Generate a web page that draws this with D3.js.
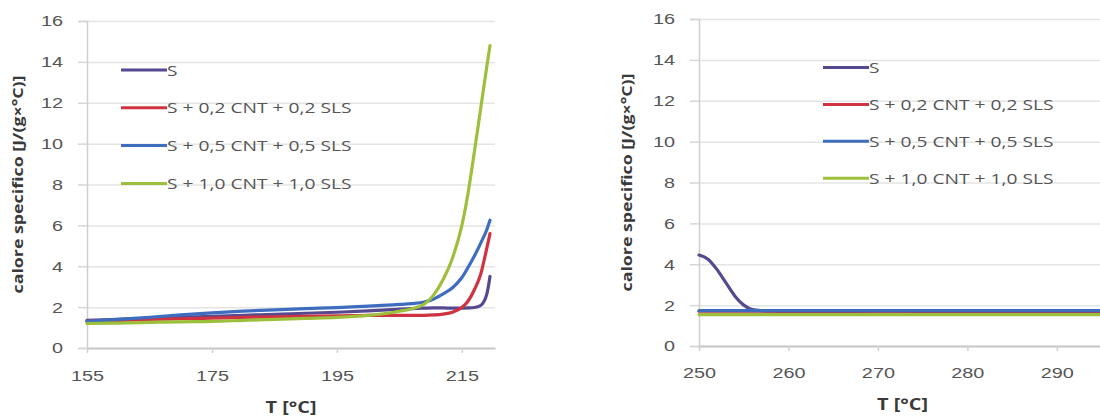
<!DOCTYPE html>
<html>
<head>
<meta charset="utf-8">
<script src="https://cdn.jsdelivr.net/npm/d3@7"></script>
<style>
  body { margin: 0; background: #fff; }
  svg { display: block; font-family: 'Open Sans', sans-serif; }
</style>
</head>
<body>
<svg id="chart" width="1100" height="418"></svg>
<script>
// Series names and colours (same order in both panels)
const seriesNames = ["S", "S + 0,2 CNT + 0,2 SLS", "S + 0,5 CNT + 0,5 SLS", "S + 1,0 CNT + 1,0 SLS"];
const seriesColors = ["#56498f", "#d0333f", "#3e6dc0", "#9dc03c"];

// Tick labels
const yTicks = [0, 2, 4, 6, 8, 10, 12, 14, 16];
const lowTicks = [155, 175, 195, 215];
const highTicks = [250, 260, 270, 280, 290];

// Low-temperature range (°C) and specific heat [J/(g×°C)]
const tempLow = [155, 160, 165, 170, 175, 180, 185, 190, 195, 200, 203, 205, 207, 209, 210.5, 212, 213.5, 215, 216, 217, 218, 219, 219.5];
const cpLowS    = [1.35, 1.40, 1.45, 1.50, 1.55, 1.60, 1.65, 1.70, 1.75, 1.82, 1.87, 1.90, 1.93, 1.95, 1.96, 1.96, 1.95, 1.95, 1.96, 1.98, 2.08, 2.65, 3.50];
const cpLow02   = [1.30, 1.35, 1.40, 1.43, 1.46, 1.50, 1.52, 1.55, 1.57, 1.60, 1.60, 1.60, 1.60, 1.60, 1.62, 1.66, 1.75, 1.98, 2.30, 2.85, 3.60, 4.90, 5.60];
const cpLow05   = [1.30, 1.40, 1.50, 1.62, 1.72, 1.80, 1.87, 1.93, 1.98, 2.05, 2.10, 2.13, 2.17, 2.25, 2.40, 2.65, 2.95, 3.45, 3.95, 4.50, 5.12, 5.80, 6.25];
const cpLow10   = [1.20, 1.22, 1.25, 1.28, 1.30, 1.35, 1.40, 1.45, 1.50, 1.60, 1.70, 1.80, 1.92, 2.15, 2.60, 3.35, 4.40, 6.00, 7.60, 9.60, 11.70, 13.80, 14.80];

// High-temperature range (°C) and specific heat [J/(g×°C)]
const tempHigh = [250, 251, 252, 253, 254, 255, 256, 258, 260, 265, 270, 275, 280, 285, 290, 295];
const cpHighS  = [4.45, 4.25, 3.75, 3.10, 2.45, 2.00, 1.78, 1.70, 1.69, 1.68, 1.70, 1.69, 1.68, 1.68, 1.69, 1.68];
const cpHigh02 = [1.70, 1.70, 1.70, 1.70, 1.70, 1.70, 1.70, 1.70, 1.70, 1.70, 1.70, 1.70, 1.70, 1.70, 1.70, 1.70];
const cpHigh05 = [1.73, 1.73, 1.73, 1.73, 1.73, 1.73, 1.73, 1.73, 1.73, 1.73, 1.73, 1.73, 1.73, 1.73, 1.73, 1.73];
const cpHigh10 = [1.54, 1.54, 1.54, 1.54, 1.54, 1.54, 1.54, 1.54, 1.54, 1.54, 1.54, 1.54, 1.54, 1.54, 1.54, 1.54];

const svg = d3.select("#chart");
const STRETCH = 1.28;   // horizontal widening of the Calibri-like lettering

function widen(sel, factor) {
  sel.each(function () {
    const w = this.getComputedTextLength();
    this.setAttribute("textLength", (w * factor).toFixed(1));
    this.setAttribute("lengthAdjust", "spacingAndGlyphs");
  });
}

function drawPanel(cfg) {
  const g = svg.append("g");
  const x = d3.scaleLinear().domain(cfg.xDomain).range(cfg.xRange);
  const y = d3.scaleLinear().domain([0, 16]).range(cfg.yRange);

  // horizontal gridlines
  g.append("g")
    .attr("transform", `translate(${cfg.xRange[0]},0)`)
    .call(d3.axisLeft(y).tickValues(yTicks).tickSize(-(cfg.xRange[1] - cfg.xRange[0])).tickFormat(""))
    .call(a => a.select(".domain").remove())
    .call(a => a.selectAll("line").attr("stroke", "#e4e4e4").attr("stroke-width", 1.5));

  // y axis: short outward ticks + labels
  const ya = g.append("g")
    .attr("transform", `translate(${cfg.xRange[0]},0)`)
    .call(d3.axisLeft(y).tickValues(yTicks).tickSize(9).tickPadding(15));
  ya.select(".domain").attr("stroke", "#cfcfcf").attr("stroke-width", 1.5);
  ya.selectAll("line").attr("stroke", "#d6d6d6").attr("stroke-width", 1.5);
  ya.selectAll("text").attr("fill", "#555").attr("font-size", 15.5).call(widen, STRETCH);

  // x axis
  const xa = g.append("g")
    .attr("transform", `translate(0,${cfg.yRange[0]})`)
    .call(d3.axisBottom(x).tickValues(cfg.ticks).tickSize(5).tickPadding(cfg.xPad).tickSizeOuter(0));
  xa.select(".domain").attr("stroke", "#c8c8c8").attr("stroke-width", 2.2);
  xa.selectAll("line").attr("stroke", "#d0d0d0").attr("stroke-width", 1.5);
  xa.selectAll("text").attr("fill", "#555").attr("font-size", 15.5).call(widen, STRETCH);

  // series lines
  const line = d3.line()
    .x(d => x(d[0]))
    .y(d => y(d[1]))
    .curve(d3.curveMonotoneX);
  cfg.series.forEach((vals, i) => {
    g.append("path")
      .datum(cfg.temps.map((t, k) => [t, vals[k]]))
      .attr("fill", "none")
      .attr("stroke", seriesColors[i])
      .attr("stroke-width", 3.2)
      .attr("stroke-linejoin", "round")
      .attr("stroke-linecap", "round")
      .attr("d", line);
  });

  // legend
  const lg = g.append("g");
  seriesNames.forEach((name, i) => {
    const cy = cfg.legend.y0 + i * cfg.legend.dy;
    lg.append("line")
      .attr("x1", cfg.legend.x).attr("x2", cfg.legend.x + 46)
      .attr("y1", cy).attr("y2", cy)
      .attr("stroke", seriesColors[i]).attr("stroke-width", 3);
    lg.append("text")
      .attr("x", cfg.legend.x + 46).attr("y", cy + 5.5)
      .attr("fill", "#555").attr("font-size", 15)
      .text(name)
      .call(widen, STRETCH);
  });

  // axis titles
  const midX = (cfg.xRange[0] + cfg.xRange[1]) / 2;
  g.append("text")
    .attr("x", midX).attr("y", cfg.yRange[0] + cfg.xTitleDy)
    .attr("text-anchor", "middle").attr("font-weight", "bold")
    .attr("font-size", 15.5).attr("fill", "#3a3a3a")
    .text("T [°C]")
    .call(widen, STRETCH);

  const midY = (cfg.yRange[0] + cfg.yRange[1]) / 2;
  g.append("text")
    .attr("transform", `translate(${cfg.yTitleX},${midY}) rotate(-90)`)
    .attr("text-anchor", "middle").attr("font-weight", "bold")
    .attr("font-size", 14.5).attr("fill", "#3a3a3a")
    .attr("textLength", 218).attr("lengthAdjust", "spacingAndGlyphs")
    .text("calore specifico [J/(g×°C)]");
}

drawPanel({
  xDomain: [155, 220.3], xRange: [87, 495], yRange: [348, 21],
  ticks: lowTicks, temps: tempLow,
  series: [cpLowS, cpLow02, cpLow05, cpLow10],
  legend: { x: 121, y0: 70, dy: 37.8 },
  xPad: 17, xTitleDy: 65,
  yTitleX: 23
});

drawPanel({
  xDomain: [250, 295.5], xRange: [699, 1106], yRange: [346, 19],
  ticks: highTicks, temps: tempHigh,
  series: [cpHighS, cpHigh02, cpHigh05, cpHigh10],
  legend: { x: 823, y0: 67.5, dy: 36.9 },
  xPad: 16, xTitleDy: 64,
  yTitleX: 632
});
</script>
</body>
</html>
